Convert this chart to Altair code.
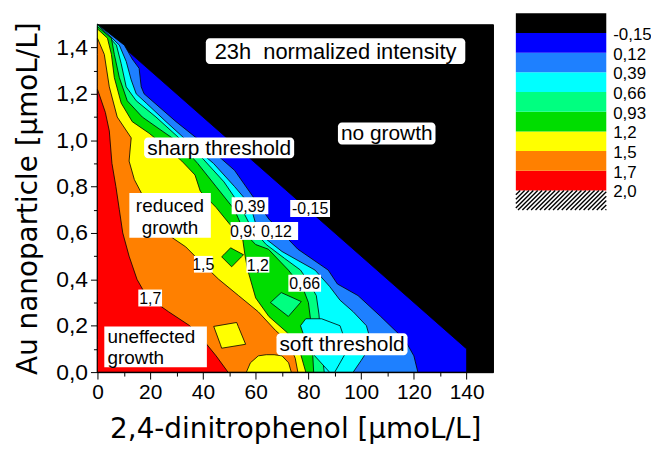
import altair as alt
import pandas as pd

FONT = "Liberation Sans"
TFONT = "DejaVu Sans"

# ---------------- axes ----------------
x_major = [0, 20, 40, 60, 80, 100, 120, 140]
x_minor = [10, 30, 50, 70, 90, 110, 130]
y_major = [0.0, 0.2, 0.4, 0.6, 0.8, 1.0, 1.2, 1.4]
y_minor = [0.1, 0.3, 0.5, 0.7, 0.9, 1.1, 1.3]

# ---------------- contour boundaries ----------------
b_m015_x = [0, 140, 140]
b_m015_y = [1.5, 0.1, 0.0]

b_012_x = [0, 10.2, 13.2, 15.8, 16.6, 17.7, 29.8, 43, 52, 60, 65, 76, 87.5, 91, 98.8, 107.4, 116.5, 120, 121.5]
b_012_y = [1.5, 1.41, 1.35, 1.31, 1.23, 1.2, 1.08, 0.96, 0.87, 0.74, 0.66, 0.53, 0.44, 0.38, 0.33, 0.24, 0.14, 0.07, 0.0]

b_039_x = [0, 8.3, 10.9, 12.8, 14.7, 18.5, 26, 34.7, 44, 52, 58, 61, 70, 82.5, 88, 92, 97, 102, 104, 100, 97]
b_039_y = [1.5, 1.41, 1.34, 1.26, 1.2, 1.16, 1.08, 0.99, 0.9, 0.8, 0.72, 0.6, 0.52, 0.44, 0.37, 0.31, 0.26, 0.2, 0.12, 0.05, 0.0]

b_066_x = [0, 7.2, 9, 10.9, 14.7, 22.2, 30.9, 40, 48, 54, 58.5, 64, 71, 77, 80, 83, 84, 85, 86]
b_066_y = [1.5, 1.41, 1.33, 1.23, 1.17, 1.1, 1.01, 0.92, 0.82, 0.72, 0.62, 0.55, 0.49, 0.44, 0.39, 0.33, 0.25, 0.1, 0.0]

b_093_x = [0, 5.3, 6.4, 8.3, 11.3, 17, 24.5, 30.9, 38, 45, 52, 55.8, 60, 64.8, 72.4, 78, 80, 81, 82]
b_093_y = [1.49, 1.44, 1.37, 1.27, 1.17, 1.1, 1.04, 0.99, 0.9, 0.8, 0.7, 0.6, 0.55, 0.53, 0.44, 0.36, 0.3, 0.21, 0.0]

b_120_x = [0, 3.8, 5.3, 6.4, 9, 13.2, 19.6, 26, 32, 37, 39, 45, 50, 55, 56, 57, 60, 65, 72, 77, 79]
b_120_y = [1.48, 1.44, 1.37, 1.27, 1.16, 1.08, 1.03, 0.97, 0.91, 0.85, 0.78, 0.71, 0.64, 0.58, 0.5, 0.44, 0.32, 0.24, 0.17, 0.08, 0.0]

b_147_x = [0, 2.6, 4.5, 7.5, 12.8, 12, 14, 20, 28.3, 33.5, 39.6, 46, 53.5, 61, 67.5, 72.4, 75, 76]
b_147_y = [1.44, 1.37, 1.23, 1.1, 1.01, 0.91, 0.83, 0.7, 0.58, 0.54, 0.47, 0.4, 0.33, 0.26, 0.18, 0.13, 0.06, 0.0]

b_174_x = [0, 3, 4.5, 5.5, 7, 8.3, 9.6, 12, 15, 18, 22, 27, 35, 40, 45, 49.5]
b_174_y = [1.22, 1.12, 1.04, 0.9, 0.8, 0.7, 0.6, 0.5, 0.4, 0.34, 0.3, 0.26, 0.2, 0.14, 0.07, 0.0]

band_colors = ["#0000FF", "#1E80FF", "#00FFFF", "#00FF80", "#00DD00", "#FFFF00", "#FF8000", "#FF0000"]
boundaries = [(b_m015_x, b_m015_y), (b_012_x, b_012_y), (b_039_x, b_039_y), (b_066_x, b_066_y),
              (b_093_x, b_093_y), (b_120_x, b_120_y), (b_147_x, b_147_y), (b_174_x, b_174_y)]

# islands: rows of (y, x_left, x_right)
isl_yellow_a_y = [0.103, 0.12, 0.197, 0.214]
isl_yellow_a_l = [47.1, 46.6, 44.1, 52.8]
isl_yellow_a_r = [47.1, 56.2, 53.4, 52.8]

isl_yellow_b_y = [0.0, 0.04, 0.07, 0.075]
isl_yellow_b_l = [56.5, 58, 61, 64]
isl_yellow_b_r = [73.5, 72.5, 70, 67]

isl_green_y = [0.454, 0.497, 0.506, 0.536]
isl_green_l = [50.9, 47.1, 47.9, 50.5]
isl_green_r = [50.9, 54.6, 55.4, 50.5]

isl_spring_y = [0.24, 0.3, 0.304, 0.343]
isl_spring_l = [72.4, 65.6, 66.0, 69.7]
isl_spring_r = [72.4, 77.0, 77.3, 69.7]

isl_cyan_y = [0.0, 0.1, 0.2, 0.23]
isl_cyan_l = [88, 80, 77, 79]
isl_cyan_r = [90, 95, 92, 85]

islands = [
    (isl_yellow_a_y, isl_yellow_a_l, isl_yellow_a_r, "#FFFF00"),
    (isl_yellow_b_y, isl_yellow_b_l, isl_yellow_b_r, "#FFFF00"),
    (isl_green_y, isl_green_l, isl_green_r, "#00DD00"),
    (isl_spring_y, isl_spring_l, isl_spring_r, "#00FF80"),
    (isl_cyan_y, isl_cyan_l, isl_cyan_r, "#00FFFF"),
]

# ---------------- annotations ----------------
big_text = ["23h\u00a0 normalized intensity", "no growth", "sharp threshold", "soft threshold"]
big_size = [22, 21, 21, 21]
big_x1 = [41.1, 91.2, 17.7, 67.9]
big_x2 = [139.5, 128.2, 74.6, 117.6]
big_y1 = [1.329, 0.982, 0.922, 0.073]
big_y2 = [1.44, 1.076, 1.012, 0.167]

multi_text = ["reduced", "growth", "uneffected", "growth"]
multi_x = [27.5, 27.5, 3.8, 3.8]
multi_y = [0.72, 0.626, 0.156, 0.064]
multi_align = ["center", "center", "left", "left"]
multi_box_x1 = [12.1, 2.6]
multi_box_x2 = [43.0, 41.5]
multi_box_y1 = [0.579, 0.021]
multi_box_y2 = [0.772, 0.197]

clab_text = ["0,93", "0,39", "-0,15", "0,12", "1,5", "1,2", "0,66", "1,7"]
clab_x1 = [50.5, 50.9, 73.1, 59.6, 36.6, 56.5, 72.4, 15.5]
clab_x2 = [61.8, 64.8, 88.2, 76.1, 43.7, 65.2, 84.8, 24.5]
clab_y1 = [0.57, 0.681, 0.669, 0.57, 0.429, 0.429, 0.347, 0.283]
clab_y2 = [0.647, 0.754, 0.742, 0.647, 0.501, 0.497, 0.42, 0.356]

# ---------------- colour bar ----------------
cb_colors = ["#FFFFFF", "#FF0000", "#FF8000", "#FFFF00", "#00DD00", "#00FF80", "#00FFFF", "#1E80FF", "#0000FF", "#000000"]
cb_labels = ["2,0", "1,7", "1,5", "1,2", "0,93", "0,66", "0,39", "0,12", "-0,15"]

# ====================================================================
XS = alt.Scale(domain=[0, 150], nice=False, zero=False)
YS = alt.Scale(domain=[0, 1.5], nice=False, zero=False)

common = dict(grid=False, labelFlush=False, labelOverlap=False, labelFont=FONT, labelColor="black",
              domainColor="black", tickColor="black", titleFont=TFONT, titleFontWeight="normal",
              titleColor="black")

x_axis = alt.Axis(values=x_major, tickSize=7, labelFontSize=21, labelPadding=3,
                  title="2,4-dinitrophenol [µmoL/L]", titleFontSize=28,
                  titleX=199, titleY=66, titleAlign="center", titleBaseline="alphabetic",
                  orient="bottom", **common)
y_axis = alt.Axis(values=y_major, tickSize=7, labelFontSize=23, labelPadding=3,
                  labelExpr="replace(format(datum.value, '.1f'), '.', ',')",
                  title="Au nanoparticle [µmoL/L]", titleFontSize=28,
                  titleX=-61, titleY=175, titleAngle=270, titleAlign="center", titleBaseline="alphabetic",
                  orient="left", **common)
x_axis_minor = alt.Axis(values=x_minor, tickSize=4, labels=False, domain=False, title=None,
                        orient="bottom", grid=False, tickColor="black")
y_axis_minor = alt.Axis(values=y_minor, tickSize=4, labels=False, domain=False, title=None,
                        orient="left", grid=False, tickColor="black")

layers = []
for k, ((bx, by), col) in enumerate(zip(boundaries, band_colors)):
    df = pd.DataFrame({"x": bx, "y": by, "x0": [0.0] * len(bx)})
    layers.append(alt.Chart(df).mark_area(orient="horizontal", color=col, stroke="black",
                                           strokeWidth=0.8, strokeJoin="round").encode(
        x=alt.X("x0:Q", scale=XS, stack=None, axis=x_axis if k == 0 else None),
        x2="x:Q",
        y=alt.Y("y:Q", scale=YS, axis=y_axis if k == 0 else None)))

for iy, il, ir, col in islands:
    df = pd.DataFrame({"y": iy, "xl": il, "xr": ir})
    layers.append(alt.Chart(df).mark_area(orient="horizontal", color=col, stroke="black",
                                           strokeWidth=0.8, strokeJoin="round").encode(
        x=alt.X("xl:Q", scale=XS, stack=None, axis=None), x2="xr:Q",
        y=alt.Y("y:Q", scale=YS, axis=None)))

# minor ticks layer (invisible points)
minor_df = pd.DataFrame({"x": [0.0], "y": [0.0]})
layers.append(alt.Chart(minor_df).mark_point(opacity=0).encode(
    x=alt.X("x:Q", scale=XS, axis=x_axis_minor), y=alt.Y("y:Q", scale=YS, axis=y_axis_minor)))

# big annotation boxes
big_df = pd.DataFrame({"t": big_text, "s": big_size, "x1": big_x1, "x2": big_x2, "y1": big_y1, "y2": big_y2})
big_df["xc"] = (big_df.x1 + big_df.x2) / 2
big_df["yc"] = (big_df.y1 + big_df.y2) / 2
layers.append(alt.Chart(big_df).mark_rect(fill="white", cornerRadius=4).encode(
    x=alt.X("x1:Q", scale=XS, axis=None), x2="x2:Q", y=alt.Y("y1:Q", scale=YS, axis=None), y2="y2:Q"))
layers.append(alt.Chart(big_df).mark_text(font=FONT, color="black", baseline="middle", dy=1).encode(
    x=alt.X("xc:Q", scale=XS, axis=None), y=alt.Y("yc:Q", scale=YS, axis=None), text="t:N",
    size=alt.Size("s:Q", scale=None)))

mbox = pd.DataFrame({"x1": multi_box_x1, "x2": multi_box_x2, "y1": multi_box_y1, "y2": multi_box_y2})
layers.append(alt.Chart(mbox).mark_rect(fill="white").encode(
    x=alt.X("x1:Q", scale=XS, axis=None), x2="x2:Q", y=alt.Y("y1:Q", scale=YS, axis=None), y2="y2:Q"))
mdf = pd.DataFrame({"t": multi_text, "x": multi_x, "y": multi_y, "a": multi_align})
for a in ["center", "left"]:
    layers.append(alt.Chart(mdf[mdf.a == a]).mark_text(font=FONT, fontSize=19, color="black",
                                                      baseline="middle", align=a, dy=1).encode(
        x=alt.X("x:Q", scale=XS, axis=None), y=alt.Y("y:Q", scale=YS, axis=None), text="t:N"))

cdf = pd.DataFrame({"t": clab_text, "x1": clab_x1, "x2": clab_x2, "y1": clab_y1, "y2": clab_y2})
cdf["xc"] = (cdf.x1 + cdf.x2) / 2
cdf["yc"] = (cdf.y1 + cdf.y2) / 2
for part in [cdf.iloc[:1], cdf.iloc[1:]]:
    layers.append(alt.Chart(part).mark_rect(fill="white").encode(
        x=alt.X("x1:Q", scale=XS, axis=None), x2="x2:Q", y=alt.Y("y1:Q", scale=YS, axis=None), y2="y2:Q"))
    layers.append(alt.Chart(part).mark_text(font=FONT, fontSize=16, color="black", baseline="middle", dy=1).encode(
        x=alt.X("xc:Q", scale=XS, axis=None), y=alt.Y("yc:Q", scale=YS, axis=None), text="t:N"))

main = alt.layer(*layers).resolve_axis(x="independent", y="independent")

# colour bar with its own scales placed right of the plot
CBX = alt.Scale(domain=[0, 1], range=[421, 512])
CBY = alt.Scale(domain=[0, 10], range=[187, -11])
cb_df = pd.DataFrame({"c": cb_colors, "y1": list(range(10)), "y2": list(range(1, 11)),
                      "x1": [0] * 10, "x2": [1] * 10})
cb_rect = alt.Chart(cb_df).mark_rect().encode(
    x=alt.X("x1:Q", scale=CBX, axis=None), x2="x2:Q",
    y=alt.Y("y1:Q", scale=CBY, axis=None), y2="y2:Q",
    color=alt.Color("c:N", scale=None))

# hatch for the lowest block (2,0 and above)
block_h_px, block_w_px, step = 19.8, 91.0, 4.4
hx1, hx2, hy1, hy2 = [], [], [], []
c = -block_h_px
while c < block_w_px:
    t0 = max(0.0, -c)
    t1 = min(block_h_px, block_w_px - c)
    if t1 > t0:
        hx1.append((t0 + c) / block_w_px); hx2.append((t1 + c) / block_w_px)
        hy1.append(t0 / block_h_px); hy2.append(t1 / block_h_px)
    c += step
hatch_df = pd.DataFrame({"x1": hx1, "x2": hx2, "y1": hy1, "y2": hy2})
cb_hatch = alt.Chart(hatch_df).mark_rule(color="black", strokeWidth=1.4).encode(
    x=alt.X("x1:Q", scale=CBX, axis=None), x2="x2:Q",
    y=alt.Y("y1:Q", scale=CBY, axis=None), y2="y2:Q")

cbl_df = pd.DataFrame({"t": cb_labels, "y": list(range(1, 10)), "x": [1] * 9})
cb_text = alt.Chart(cbl_df).mark_text(font=FONT, fontSize=17, color="black", align="left",
                                      baseline="middle", dx=7, dy=2).encode(
    x=alt.X("x:Q", scale=CBX, axis=None), y=alt.Y("y:Q", scale=CBY, axis=None), text="t:N")

cbar = alt.layer(cb_rect, cb_hatch, cb_text)

chart = alt.layer(main, cbar).resolve_scale(x="independent", y="independent").properties(
    width=398, height=350,
    autosize=alt.AutoSizeParams(type="none"),
    padding={"left": 90, "top": 15, "right": 159, "bottom": 73},
).configure_view(fill="#000000", stroke="black", strokeWidth=1)

chart.save("out.html", embed_options={"renderer": "svg", "actions": False})
